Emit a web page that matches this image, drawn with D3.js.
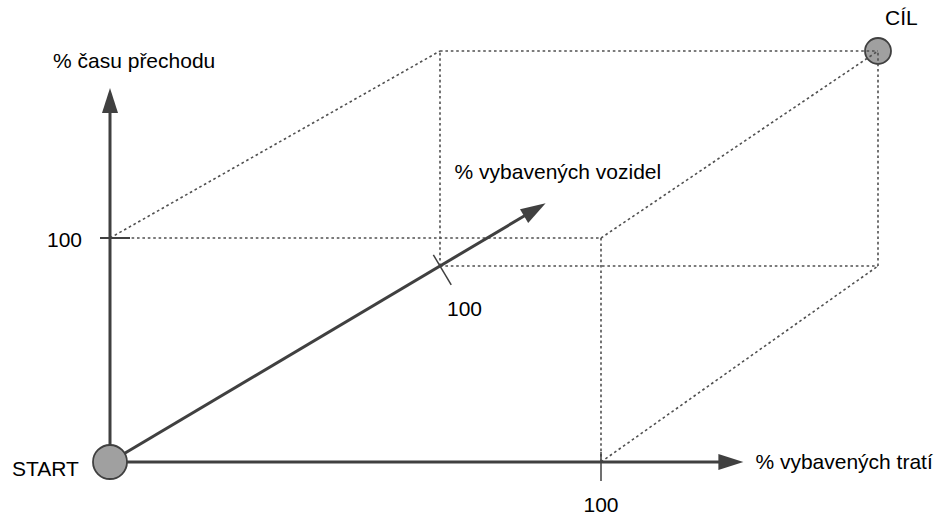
<!DOCTYPE html>
<html>
<head>
<meta charset="utf-8">
<script src="https://cdn.jsdelivr.net/npm/d3@7"></script>
<style>
  body { margin: 0; background: #fff; }
  text { font-family: "Liberation Sans", Arial, sans-serif; font-size: 21px; fill: #000; }
</style>
</head>
<body>
<svg id="chart" width="939" height="516"></svg>
<script>
// axes: x = tracks, y = transition time, z = vehicles (drawn as depth)
const axisNames = ["% vybavených tratí", "% času přechodu", "% vybavených vozidel"];
const axisMax = [129, 167, 132];
const tickValue = 100;
const tickLabels = ["100", "100", "100"];
const startPoint = [0, 0, 0];
const goalPoint = [100, 100, 100];
const pointLabels = ["START", "CÍL"];

let svg = d3.select("#chart");

// front face (z = 0) and back face (z = 100) scales, slight perspective
let xFront = d3.scaleLinear().domain([0, 100]).range([110, 601]),
  xBack = d3.scaleLinear().domain([0, 100]).range([440, 878]),
  yFront = d3.scaleLinear().domain([0, 100]).range([462, 238]),
  yBack = d3.scaleLinear().domain([0, 100]).range([266, 51]),
  depth = d3.scaleLinear().domain([0, 100]).range([0, 1]);

let project = function (p) {
  let t = depth(p[2]);
  return [
    xFront(p[0]) * (1 - t) + xBack(p[0]) * t,
    yFront(p[1]) * (1 - t) + yBack(p[1]) * t,
  ];
};

let axisColor = "#404040",
  dotColor = "#505050";

// box corners at 100 on every axis
let corners = [];
[0, tickValue].forEach((x) => {
  [0, tickValue].forEach((y) => {
    [0, tickValue].forEach((z) => {
      corners.push([x, y, z]);
    });
  });
});
// every box edge except the ones lying on the axes
let edges = [];
corners.forEach((a, i) => {
  corners.forEach((b, j) => {
    if (j <= i) return;
    let diff = a.filter((v, k) => v !== b[k]).length;
    if (diff !== 1) return;
    let onAxis = a.filter((v) => v === 0).length >= 2 && b.filter((v) => v === 0).length >= 2;
    if (onAxis) return;
    edges.push([a, b]);
  });
});

// goal circle goes under the dotted lines
let goal = project(goalPoint);
svg
  .append("circle")
  .attr("cx", goal[0])
  .attr("cy", goal[1])
  .attr("r", 13)
  .attr("fill", "#a0a0a0")
  .attr("stroke", axisColor)
  .attr("stroke-width", 1.8);

svg
  .selectAll("line.edge")
  .data(edges)
  .enter()
  .append("line")
  .attr("class", "edge")
  .attr("x1", (d) => project(d[0])[0])
  .attr("y1", (d) => project(d[0])[1])
  .attr("x2", (d) => project(d[1])[0])
  .attr("y2", (d) => project(d[1])[1])
  .attr("stroke", dotColor)
  .attr("stroke-width", 1.6)
  .attr("stroke-dasharray", "2.6,2.8");

// axes with arrowheads
let origin = project(startPoint);
let axisEnds = axisMax.map((m, i) => {
  let p = [0, 0, 0];
  p[i] = m;
  return project(p);
});

let headLen = 25,
  headHalf = 8;

axisEnds.forEach((tip) => {
  let dx = tip[0] - origin[0],
    dy = tip[1] - origin[1],
    len = Math.sqrt(dx * dx + dy * dy),
    ux = dx / len,
    uy = dy / len;
  svg
    .append("line")
    .attr("x1", origin[0])
    .attr("y1", origin[1])
    .attr("x2", tip[0] - ux * (headLen - 4))
    .attr("y2", tip[1] - uy * (headLen - 4))
    .attr("stroke", axisColor)
    .attr("stroke-width", 3);
  let bx = tip[0] - ux * headLen,
    by = tip[1] - uy * headLen;
  svg
    .append("polygon")
    .attr(
      "points",
      [
        [tip[0], tip[1]],
        [bx - uy * headHalf, by + ux * headHalf],
        [bx + uy * headHalf, by - ux * headHalf],
      ].join(" ")
    )
    .attr("fill", axisColor);
});

// tick marks at 100
let tickPts = [0, 1, 2].map((i) => {
  let p = [0, 0, 0];
  p[i] = tickValue;
  return project(p);
});
// x tick: vertical, y tick: horizontal, z tick: perpendicular to the depth axis
svg
  .append("line")
  .attr("x1", tickPts[0][0])
  .attr("x2", tickPts[0][0])
  .attr("y1", tickPts[0][1] - 10)
  .attr("y2", tickPts[0][1] + 19)
  .attr("stroke", axisColor)
  .attr("stroke-width", 1.5);
svg
  .append("line")
  .attr("x1", tickPts[1][0] - 10)
  .attr("x2", tickPts[1][0] + 20)
  .attr("y1", tickPts[1][1])
  .attr("y2", tickPts[1][1])
  .attr("stroke", axisColor)
  .attr("stroke-width", 2);
{
  let dx = axisEnds[2][0] - origin[0],
    dy = axisEnds[2][1] - origin[1],
    len = Math.sqrt(dx * dx + dy * dy),
    nx = -dy / len,
    ny = dx / len;
  svg
    .append("line")
    .attr("x1", tickPts[2][0] + nx * 22)
    .attr("y1", tickPts[2][1] + ny * 22)
    .attr("x2", tickPts[2][0] - nx * 13)
    .attr("y2", tickPts[2][1] - ny * 13)
    .attr("stroke", axisColor)
    .attr("stroke-width", 1.5);
}

// start circle sits on top of the axes
svg
  .append("circle")
  .attr("cx", origin[0])
  .attr("cy", origin[1])
  .attr("r", 17)
  .attr("fill", "#a0a0a0")
  .attr("stroke", axisColor)
  .attr("stroke-width", 1.8);

// labels
svg.append("text").attr("x", axisEnds[0][0] + 12).attr("y", axisEnds[0][1] + 7).text(axisNames[0]);
svg.append("text").attr("x", axisEnds[1][0] - 57).attr("y", axisEnds[1][1] - 20).text(axisNames[1]);
svg.append("text").attr("x", axisEnds[2][0] - 91).attr("y", axisEnds[2][1] - 24).text(axisNames[2]);

svg.append("text").attr("x", tickPts[0][0]).attr("y", tickPts[0][1] + 50).attr("text-anchor", "middle").text(tickLabels[0]);
svg.append("text").attr("x", tickPts[1][0] - 28).attr("y", tickPts[1][1] + 9).attr("text-anchor", "end").text(tickLabels[1]);
svg.append("text").attr("x", tickPts[2][0] + 7).attr("y", tickPts[2][1] + 50).text(tickLabels[2]);

svg.append("text").attr("x", origin[0] - 98).attr("y", origin[1] + 14).text(pointLabels[0]);
svg.append("text").attr("x", goal[0] + 7).attr("y", goal[1] - 26).text(pointLabels[1]);
</script>
</body>
</html>
